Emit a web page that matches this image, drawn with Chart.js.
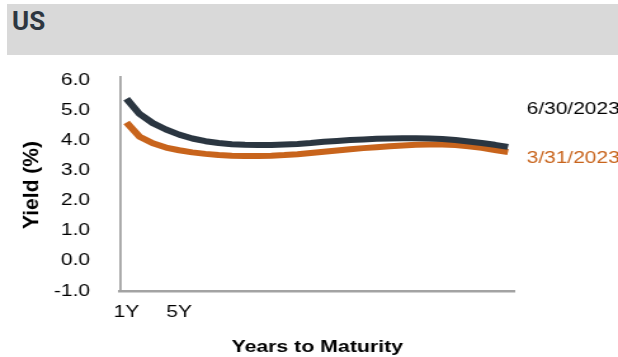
<!DOCTYPE html>
<html>
<head>
<meta charset="utf-8">
<script src="https://cdn.jsdelivr.net/npm/chart.js@4.4.0/dist/chart.umd.min.js"></script>
<style>
  html, body { margin: 0; padding: 0; background: #fff; }
  body { width: 618px; height: 357px; position: relative; overflow: hidden; }
  #header { position: absolute; left: 7px; top: 4px; width: 611px; height: 51px; background: #d9d9d9; }
  #header span { position: absolute; left: 5px; top: 4px; font: bold 26px/26px Roboto, sans-serif; color: #2d3640; }
  /* the source picture is stretched sideways, so draw narrow and scale */
  #wrap { position: absolute; left: 0; top: 0; width: 487px; height: 357px; transform: scaleX(1.269); transform-origin: 0 0; }
</style>
</head>
<body>
<div id="header"><span>US</span></div>
<div id="wrap"><canvas id="curve"></canvas></div>
<script>
const maturities = ['1Y', '2Y', '3Y', '4Y', '5Y', '6Y', '7Y', '8Y', '9Y', '10Y',
  '11Y', '12Y', '13Y', '14Y', '15Y', '16Y', '17Y', '18Y', '19Y', '20Y',
  '21Y', '22Y', '23Y', '24Y', '25Y', '26Y', '27Y', '28Y', '29Y', '30Y'];
const shownTicks = ['1Y', '5Y'];
const yTicks = [-1, 0, 1, 2, 3, 4, 5, 6];
const seriesNames = ['6/30/2023', '3/31/2023'];

const yieldsJun = [5.38, 4.87, 4.57, 4.36, 4.19, 4.06, 3.97, 3.91, 3.87, 3.85,
  3.84, 3.84, 3.86, 3.88, 3.91, 3.95, 3.98, 4.01, 4.03, 4.05,
  4.06, 4.07, 4.07, 4.06, 4.04, 4.01, 3.96, 3.91, 3.85, 3.78];
const yieldsMar = [4.59, 4.12, 3.90, 3.76, 3.67, 3.60, 3.55, 3.51, 3.49, 3.48,
  3.48, 3.49, 3.51, 3.54, 3.58, 3.62, 3.66, 3.70, 3.74, 3.77,
  3.80, 3.83, 3.85, 3.86, 3.86, 3.84, 3.80, 3.75, 3.68, 3.61];

const DARK = '#2b3641';
const ORANGE = '#c8641c';
const AXIS = '#a3a3a3';
const FONT = '"Liberation Sans", Arial, sans-serif';
const STRETCH = 618 / 487;

// end labels at the right and the upright y title
const extras = {
  id: 'extras',
  afterDraw(chart) {
    const {ctx, chartArea} = chart;
    const sets = chart.data.datasets;
    ctx.save();
    ctx.font = '16.5px ' + FONT;
    ctx.textBaseline = 'middle';
    ctx.textAlign = 'left';
    ctx.fillStyle = '#000';
    ctx.fillText(sets[0].label, chartArea.right + 9.5, chartArea.top + 32);
    ctx.fillStyle = ORANGE;
    ctx.fillText(sets[1].label, chartArea.right + 9.5, chartArea.top + 81);

    ctx.translate(25, (chartArea.top + chartArea.bottom) / 2 + 1);
    ctx.rotate(-Math.PI / 2);
    ctx.scale(1, 1 / STRETCH);
    ctx.font = 'bold 21px ' + FONT;
    ctx.textAlign = 'center';
    ctx.fillStyle = '#000';
    ctx.fillText('Yield (%)', 0, 0);
    ctx.restore();
  }
};

new Chart(document.getElementById('curve'), {
  type: 'line',
  data: {
    labels: maturities,
    datasets: [
      {label: seriesNames[0], data: yieldsJun, borderColor: DARK},
      {label: seriesNames[1], data: yieldsMar, borderColor: ORANGE}
    ]
  },
  options: {
    responsive: true,
    maintainAspectRatio: false,
    animation: false,
    layout: {padding: {top: 77, right: 81.5, left: 0, bottom: 0}},
    elements: {
      line: {borderWidth: 6, tension: 0, borderCapStyle: 'butt', borderJoinStyle: 'round', fill: false},
      point: {radius: 0, hoverRadius: 0}
    },
    plugins: {
      legend: {display: false},
      tooltip: {enabled: false}
    },
    scales: {
      x: {
        type: 'category',
        offset: true,
        grid: {display: false, drawTicks: false},
        border: {display: true, color: AXIS, width: 2.5},
        afterFit: (s) => { s.height = 66; },
        ticks: {
          autoSkip: false,
          maxRotation: 0,
          padding: 12,
          color: '#000',
          font: {family: FONT, size: 16.5},
          callback: function (v) {
            const lab = this.getLabelForValue(v);
            return shownTicks.includes(lab) ? lab : '';
          }
        },
        title: {
          display: true,
          text: 'Years to Maturity',
          color: '#000',
          padding: {top: 0, bottom: 0},
          font: {family: FONT, size: 16.8, weight: 'bold'}
        }
      },
      y: {
        min: -1,
        max: 6.1,
        grid: {display: false, drawTicks: false},
        border: {display: true, color: AXIS, width: 1.8},
        afterFit: (s) => { s.width = 94.5; },
        afterBuildTicks: (s) => { s.ticks = yTicks.map(v => ({value: v})); },
        ticks: {
          padding: 23.6,
          color: '#000',
          font: {family: FONT, size: 16.5},
          callback: (v) => v.toFixed(1)
        }
      }
    }
  },
  plugins: [extras]
});
</script>
</body>
</html>
